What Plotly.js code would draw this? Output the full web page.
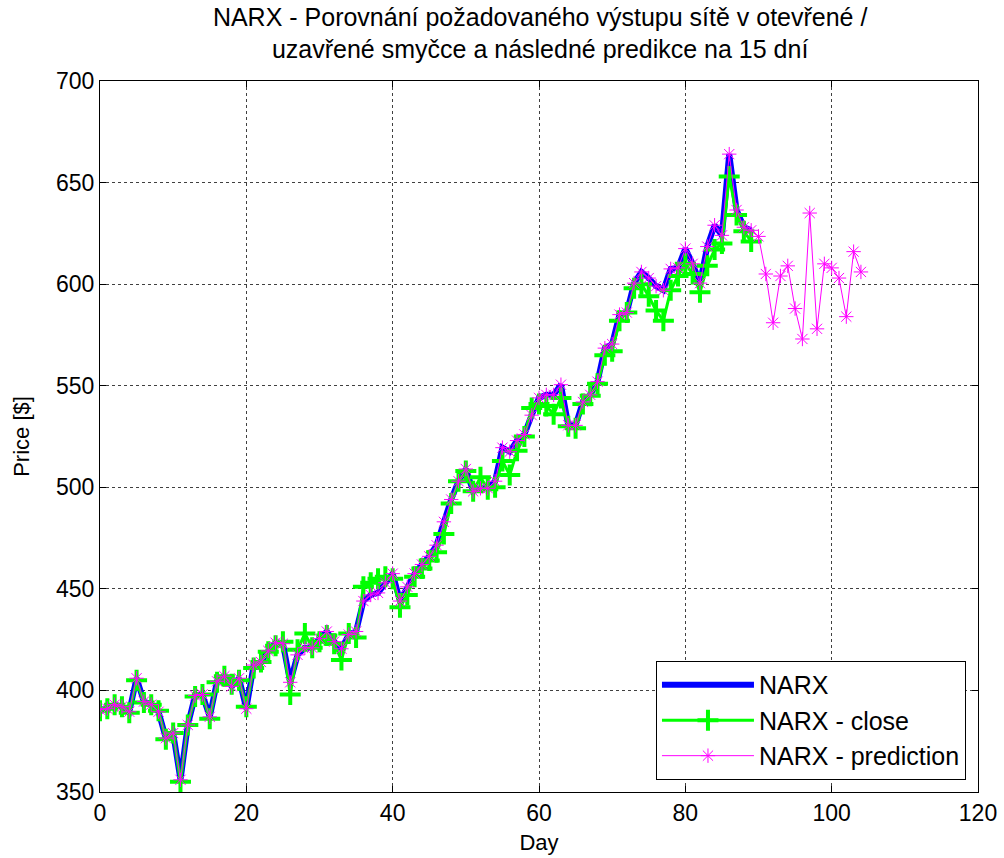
<!DOCTYPE html>
<html>
<head>
<meta charset="utf-8">
<script src="https://cdn.plot.ly/plotly-3.0.1.min.js"></script>
<style>html,body{margin:0;padding:0;background:#fff;}#chart{width:1004px;height:858px;}</style>
</head>
<body>
<div id="chart"></div>
<script>
// Days 0..89 (open loop / closed loop), days 90..104 prediction
const narx = [390.5, 391, 393, 392, 389.5, 406, 394.5, 393, 389.5, 376.5,
  379, 356, 383, 397.5, 398, 387, 404.5, 407, 402, 406,
  391, 412.5, 414, 419.5, 423.5, 423, 404, 417.5, 421, 421,
  425.5, 429, 424, 420.5, 427.5, 429, 444, 447, 448, 453,
  457.5, 444, 451, 457.5, 462, 466, 471.5, 483, 494, 503,
  509, 498, 499.5, 499.5, 503, 519.5, 517.5, 523, 526, 535.5,
  544, 545.5, 545.5, 550.5, 530.5, 530.5, 542, 545.5, 552, 568.5,
  570.5, 585, 586, 600.5, 606, 603, 599, 597, 607.5, 608,
  617.5, 610, 600.5, 618.5, 629, 624, 664, 636.5, 628, 626.5];
const close = [390, 391, 393, 392, 389, 405, 394, 393, 390, 376,
  379, 355, 383, 397, 398, 386, 404, 407, 403, 405,
  392, 411, 414, 419, 422, 424, 398, 420, 428, 421,
  424, 427, 423, 415, 428, 426, 451, 453, 455, 456,
  455, 441, 447, 456, 460, 464, 468, 477, 492, 503,
  508, 498, 505, 499, 500, 513, 506, 518, 525, 539,
  541, 540, 536, 544, 530, 529, 541, 545, 551, 565,
  567, 582, 586, 598, 600, 594, 587, 582, 597, 604,
  610, 605, 596, 609, 617, 620, 653, 634, 626, 621];
const forecast = [623.5, 605, 581, 604, 609, 588, 573, 635, 578, 610,
  608, 603, 584, 616, 606];
const xTicks = [0, 20, 40, 60, 80, 100, 120];
const yTicks = [350, 400, 450, 500, 550, 600, 650, 700];

const daysA = narx.map((_, i) => i);
const prediction = narx.concat(forecast);
const daysP = prediction.map((_, i) => i);

const FONT = 'Liberation Sans, Arial, Helvetica, sans-serif';

const traces = [
  {x: daysA, y: narx, name: 'NARX', type: 'scatter', mode: 'lines',
   line: {color: '#0000ff', width: 6}},
  {x: daysA, y: close, name: 'NARX - close', type: 'scatter', mode: 'lines+markers',
   line: {color: '#00ff00', width: 3},
   marker: {symbol: 'cross-thin-open', size: 15, color: '#00ff00', line: {color: '#00ff00', width: 4}}},
  {x: daysP, y: prediction, name: 'NARX - prediction', type: 'scatter', mode: 'lines+markers',
   line: {color: '#ff00ff', width: 1},
   marker: {symbol: 'asterisk-open', size: 12, color: '#ff00ff', line: {color: '#ff00ff', width: 1}}}
];

const axisCommon = {
  showline: true, linecolor: '#000', linewidth: 1, mirror: 'ticks',
  ticks: 'inside', ticklen: 6, tickcolor: '#000',
  showgrid: true, gridcolor: 'rgba(0,0,0,0.75)', griddash: 'dot', gridwidth: 1,
  zeroline: false, tickfont: {family: FONT, size: 23, color: '#000'}
};

const layout = {
  width: 1004, height: 858,
  margin: {l: 100, r: 26, t: 81, b: 66},
  paper_bgcolor: '#fff', plot_bgcolor: '#fff',
  font: {family: FONT, color: '#000'},
  showlegend: true,
  title: {text: 'NARX - Porovnání požadovaného výstupu sítě v otevřené /<br>uzavřené smyčce a následné predikce na 15 dní',
    font: {family: FONT, size: 25, color: '#000'},
    x: 0.538, xanchor: 'center', y: 0.970, yanchor: 'top', xref: 'container', yref: 'container'},
  xaxis: Object.assign({}, axisCommon, {range: [0, 120], tickvals: xTicks,
    title: {text: 'Day', font: {family: FONT, size: 22, color: '#000'}, standoff: 10}}),
  yaxis: Object.assign({}, axisCommon, {range: [350, 700], tickvals: yTicks,
    title: {text: 'Price [$]', font: {family: FONT, size: 22, color: '#000'}, standoff: 20}}),
  legend: {x: 0.9863, xanchor: 'right', y: 0.017, yanchor: 'bottom',
    bgcolor: '#fff', bordercolor: '#000', borderwidth: 1,
    font: {family: FONT, size: 25, color: '#000'}, itemwidth: 92, traceorder: 'normal'}
};

Plotly.newPlot('chart', traces, layout, {displayModeBar: false, staticPlot: true});
</script>
</body>
</html>
